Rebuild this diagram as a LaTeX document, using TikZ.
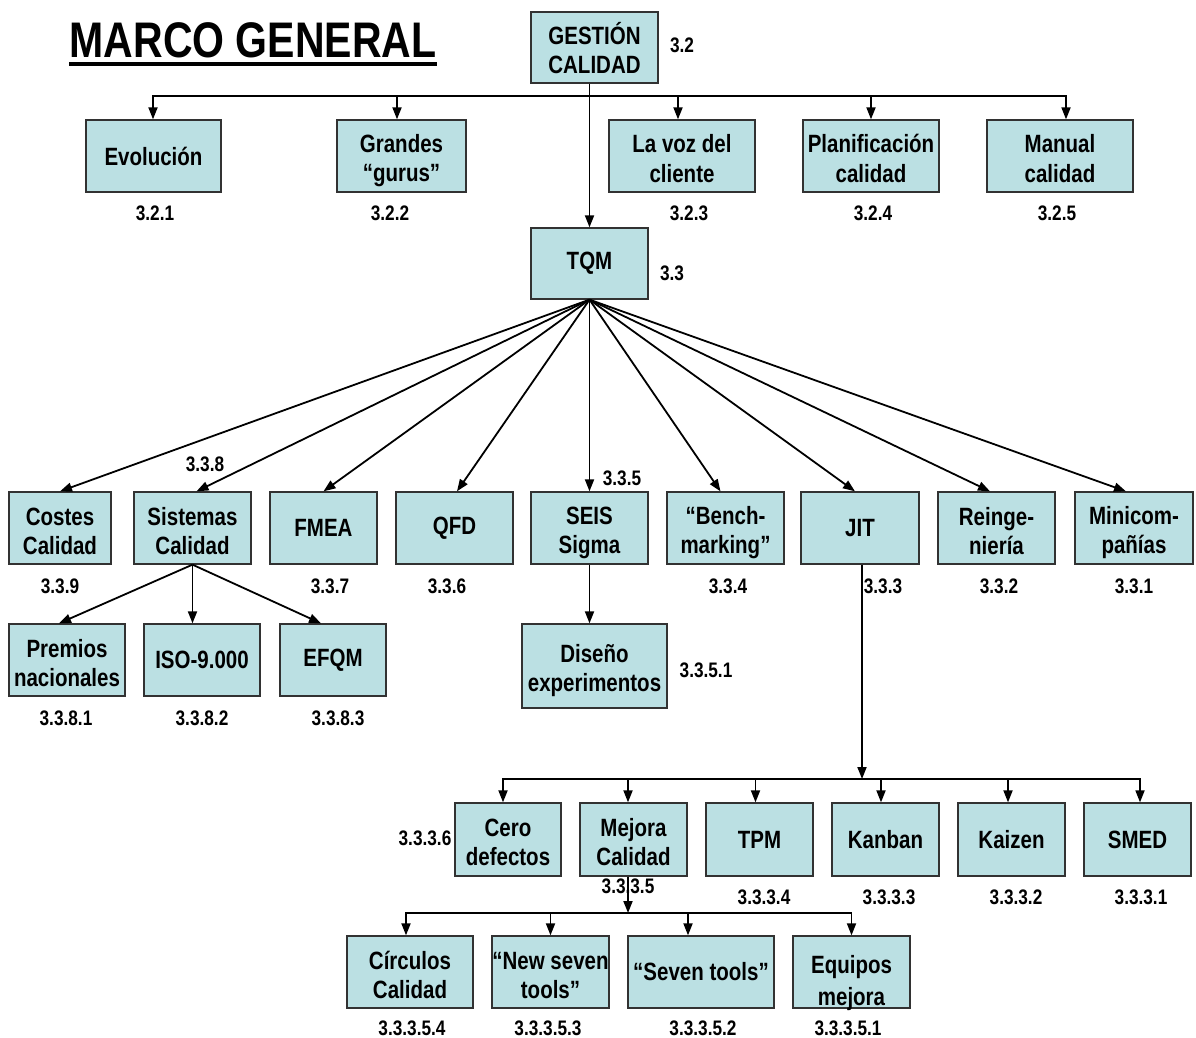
\documentclass[tikz,border=0pt]{standalone}
\usepackage{fontspec}
\setmainfont{Liberation Sans}[FakeStretch=0.82]
\usetikzlibrary{arrows.meta}
\definecolor{boxfill}{RGB}{187,224,227}
\definecolor{boxline}{RGB}{50,50,50}
\newcommand{\boxfont}{\fontsize{25}{29}\selectfont\bfseries}
\newcommand{\numfont}{\fontsize{21}{24}\selectfont\bfseries}
\newcommand{\titlefont}{\fontsize{50}{56}\selectfont\bfseries}
% struts that keep every box text at the same height
\newcommand{\boxstrut}{\rule[-5pt]{0pt}{28pt}}
\newcommand{\topstrut}{\rule[-5pt]{0pt}{33pt}}
\newcommand{\lowstrut}{\rule[-5pt]{0pt}{39pt}}
\newcommand{\twolines}[2]{\topstrut#1\\#2\boxstrut}
\begin{document}
\begin{tikzpicture}[x=1pt,y=-1pt,
  box/.style={draw=boxline, line width=1.3pt, fill=boxfill, align=center,
    inner sep=0pt, font=\boxfont, minimum height=72pt},
  num/.style={font=\numfont, inner sep=0pt},
  arr/.style={line width=1.8pt, -{Triangle[length=12pt,width=9pt]}}]
\useasboundingbox[fill=white] (0,0) rectangle (1196,1038);

% title
\node[font=\titlefont, inner sep=0pt] (title) at (253,40) {MARCO GENERAL};
\draw[line width=4pt] (title.west |- 0,64) -- (title.east |- 0,64);

% root and first level
\node[box, minimum width=127pt, minimum height=71pt] (g) at (594.5,47.5) {\twolines{GESTIÓN}{CALIDAD}};
\node[box, minimum width=135pt] (evo) at (153.5,156) {Evolución};
\node[box, minimum width=129pt] (gur) at (401.5,156) {\twolines{Grandes}{“gurus”}};
\node[box, minimum width=146pt] (voz) at (682,156) {\twolines{La voz del}{cliente}};
\node[box, minimum width=136pt] (pla) at (871,156) {\twolines{Planificación}{calidad}};
\node[box, minimum width=146pt] (man) at (1060,156) {\twolines{Manual}{calidad}};
\node[box, minimum width=117pt, minimum height=71pt] (tqm) at (589.5,263.5) {TQM};

% TQM branches
\node[box, minimum width=102pt] (cos) at (60,528) {\twolines{Costes}{Calidad}};
\node[box, minimum width=117pt] (sis) at (192.5,528) {\twolines{Sistemas}{Calidad}};
\node[box, minimum width=107pt] (fme) at (323.5,528) {FMEA};
\node[box, minimum width=117pt] (qfd) at (454.5,528) {QFD};
\node[box, minimum width=117pt] (sei) at (589.5,528) {\twolines{SEIS}{Sigma}};
\node[box, minimum width=117pt] (ben) at (725.5,528) {\twolines{“Bench-}{marking”}};
\node[box, minimum width=118pt] (jit) at (860,528) {JIT};
\node[box, minimum width=117pt] (rei) at (996.5,528) {\twolines{Reinge-}{niería}};
\node[box, minimum width=118pt] (min) at (1134,528) {\twolines{Minicom-}{pañías}};

% quality systems
\node[box, minimum width=116pt] (pre) at (67,660) {\twolines{Premios}{nacionales}};
\node[box, minimum width=116pt] (iso) at (202,660) {ISO-9.000};
\node[box, minimum width=106pt] (efq) at (333,660) {EFQM};
\node[box, minimum width=145pt, minimum height=84pt] (dis) at (594.5,666) {\twolines{Diseño}{experimentos}};

% JIT branches
\node[box, minimum width=106pt, minimum height=73pt] (cer) at (508,839.5) {\twolines{Cero}{defectos}};
\node[box, minimum width=107pt, minimum height=73pt] (mej) at (633.5,839.5) {\twolines{Mejora}{Calidad}};
\node[box, minimum width=107pt, minimum height=73pt] (tpm) at (759.5,839.5) {TPM};
\node[box, minimum width=107pt, minimum height=73pt] (kan) at (885.5,839.5) {Kanban};
\node[box, minimum width=107pt, minimum height=73pt] (kai) at (1011.5,839.5) {Kaizen};
\node[box, minimum width=107pt, minimum height=73pt] (sme) at (1137.5,839.5) {SMED};

% quality improvement branches
\node[box, minimum width=126pt] (cir) at (410,972) {\twolines{Círculos}{Calidad}};
\node[box, minimum width=117pt] (nsv) at (550.5,972) {\twolines{“New seven}{tools”}};
\node[box, minimum width=146pt] (sev) at (701,972) {“Seven tools”};
\node[box, minimum width=117pt] (equ) at (851.5,972) {\lowstrut Equipos\\[3pt]\smash{mejora}};

% section numbers
\node[num] at (682,45) {3.2};
\node[num] at (155,213) {3.2.1};
\node[num] at (390,213) {3.2.2};
\node[num] at (689,213) {3.2.3};
\node[num] at (873,213) {3.2.4};
\node[num] at (1057,213) {3.2.5};
\node[num] at (672,273) {3.3};
\node[num] at (205,464) {3.3.8};
\node[num] at (622,478) {3.3.5};
\node[num] at (60,586) {3.3.9};
\node[num] at (330,586) {3.3.7};
\node[num] at (447,586) {3.3.6};
\node[num] at (728,586) {3.3.4};
\node[num] at (883,586) {3.3.3};
\node[num] at (999,586) {3.3.2};
\node[num] at (1134,586) {3.3.1};
\node[num] at (66,718) {3.3.8.1};
\node[num] at (202,718) {3.3.8.2};
\node[num] at (338,718) {3.3.8.3};
\node[num] at (706,670) {3.3.5.1};
\node[num] at (425,838) {3.3.3.6};
\node[num] at (628,886) {3.3.3.5};
\node[num] at (764,897) {3.3.3.4};
\node[num] at (889,897) {3.3.3.3};
\node[num] at (1016,897) {3.3.3.2};
\node[num] at (1141,897) {3.3.3.1};
\node[num] at (412,1028) {3.3.3.5.4};
\node[num] at (548,1028) {3.3.3.5.3};
\node[num] at (703,1028) {3.3.3.5.2};
\node[num] at (848,1028) {3.3.3.5.1};

% connectors from the root
\coordinate (gbus) at (589.5,96);
\draw[arr] (tqm.north |- g.south) -- (tqm.north);
\draw[arr] (gbus) -| ([xshift=-0.5pt]evo.north);
\draw[arr] (gbus) -| ([xshift=-4.5pt]gur.north);
\draw[arr] (gbus) -| ([xshift=-4pt]voz.north);
\draw[arr] (gbus) -| (pla.north);
\draw[arr] (gbus) -| ([xshift=6pt]man.north);

% fan out of TQM
\draw[arr] (tqm.south) -- (cos.north);
\draw[arr] (tqm.south) -- ([xshift=4pt]sis.north);
\draw[arr] (tqm.south) -- (fme.north);
\draw[arr] (tqm.south) -- ([xshift=2.5pt]qfd.north);
\draw[arr] (tqm.south) -- (sei.north);
\draw[arr] (tqm.south) -- ([xshift=-5pt]ben.north);
\draw[arr] (tqm.south) -- ([xshift=-5pt]jit.north);
\draw[arr] (tqm.south) -- ([xshift=-6.5pt]rei.north);
\draw[arr] (tqm.south) -- ([xshift=-8pt]min.north);

% quality systems
\draw[arr] (sis.south) -- ([xshift=-8pt]pre.north);
\draw[arr] (sis.south) -- (sis.south |- iso.north);
\draw[arr] (sis.south) -- ([xshift=-12pt]efq.north);

% six sigma
\draw[arr] (sei.south) -- (sei.south |- dis.north);

% JIT tree
\coordinate (jbus) at (862,779);
\draw[arr] ([xshift=2pt]jit.south) -- (jbus);
\draw[arr] (jbus) -| ([xshift=-5pt]cer.north);
\draw[arr] (jbus) -| ([xshift=-5.5pt]mej.north);
\draw[arr] (jbus) -| ([xshift=-4pt]tpm.north);
\draw[arr] (jbus) -| ([xshift=-4.5pt]kan.north);
\draw[arr] (jbus) -| ([xshift=-3.5pt]kai.north);
\draw[arr] (jbus) -| ([xshift=2.5pt]sme.north);

% quality improvement tree
\coordinate (mbus) at (628,913);
\draw[arr] ([xshift=-5.5pt]mej.south) -- (mbus);
\draw[arr] (mbus) -| ([xshift=-4pt]cir.north);
\draw[arr] (mbus) -| (nsv.north);
\draw[arr] (mbus) -| ([xshift=-13pt]sev.north);
\draw[arr] (mbus) -| (equ.north);
\end{tikzpicture}
\end{document}
